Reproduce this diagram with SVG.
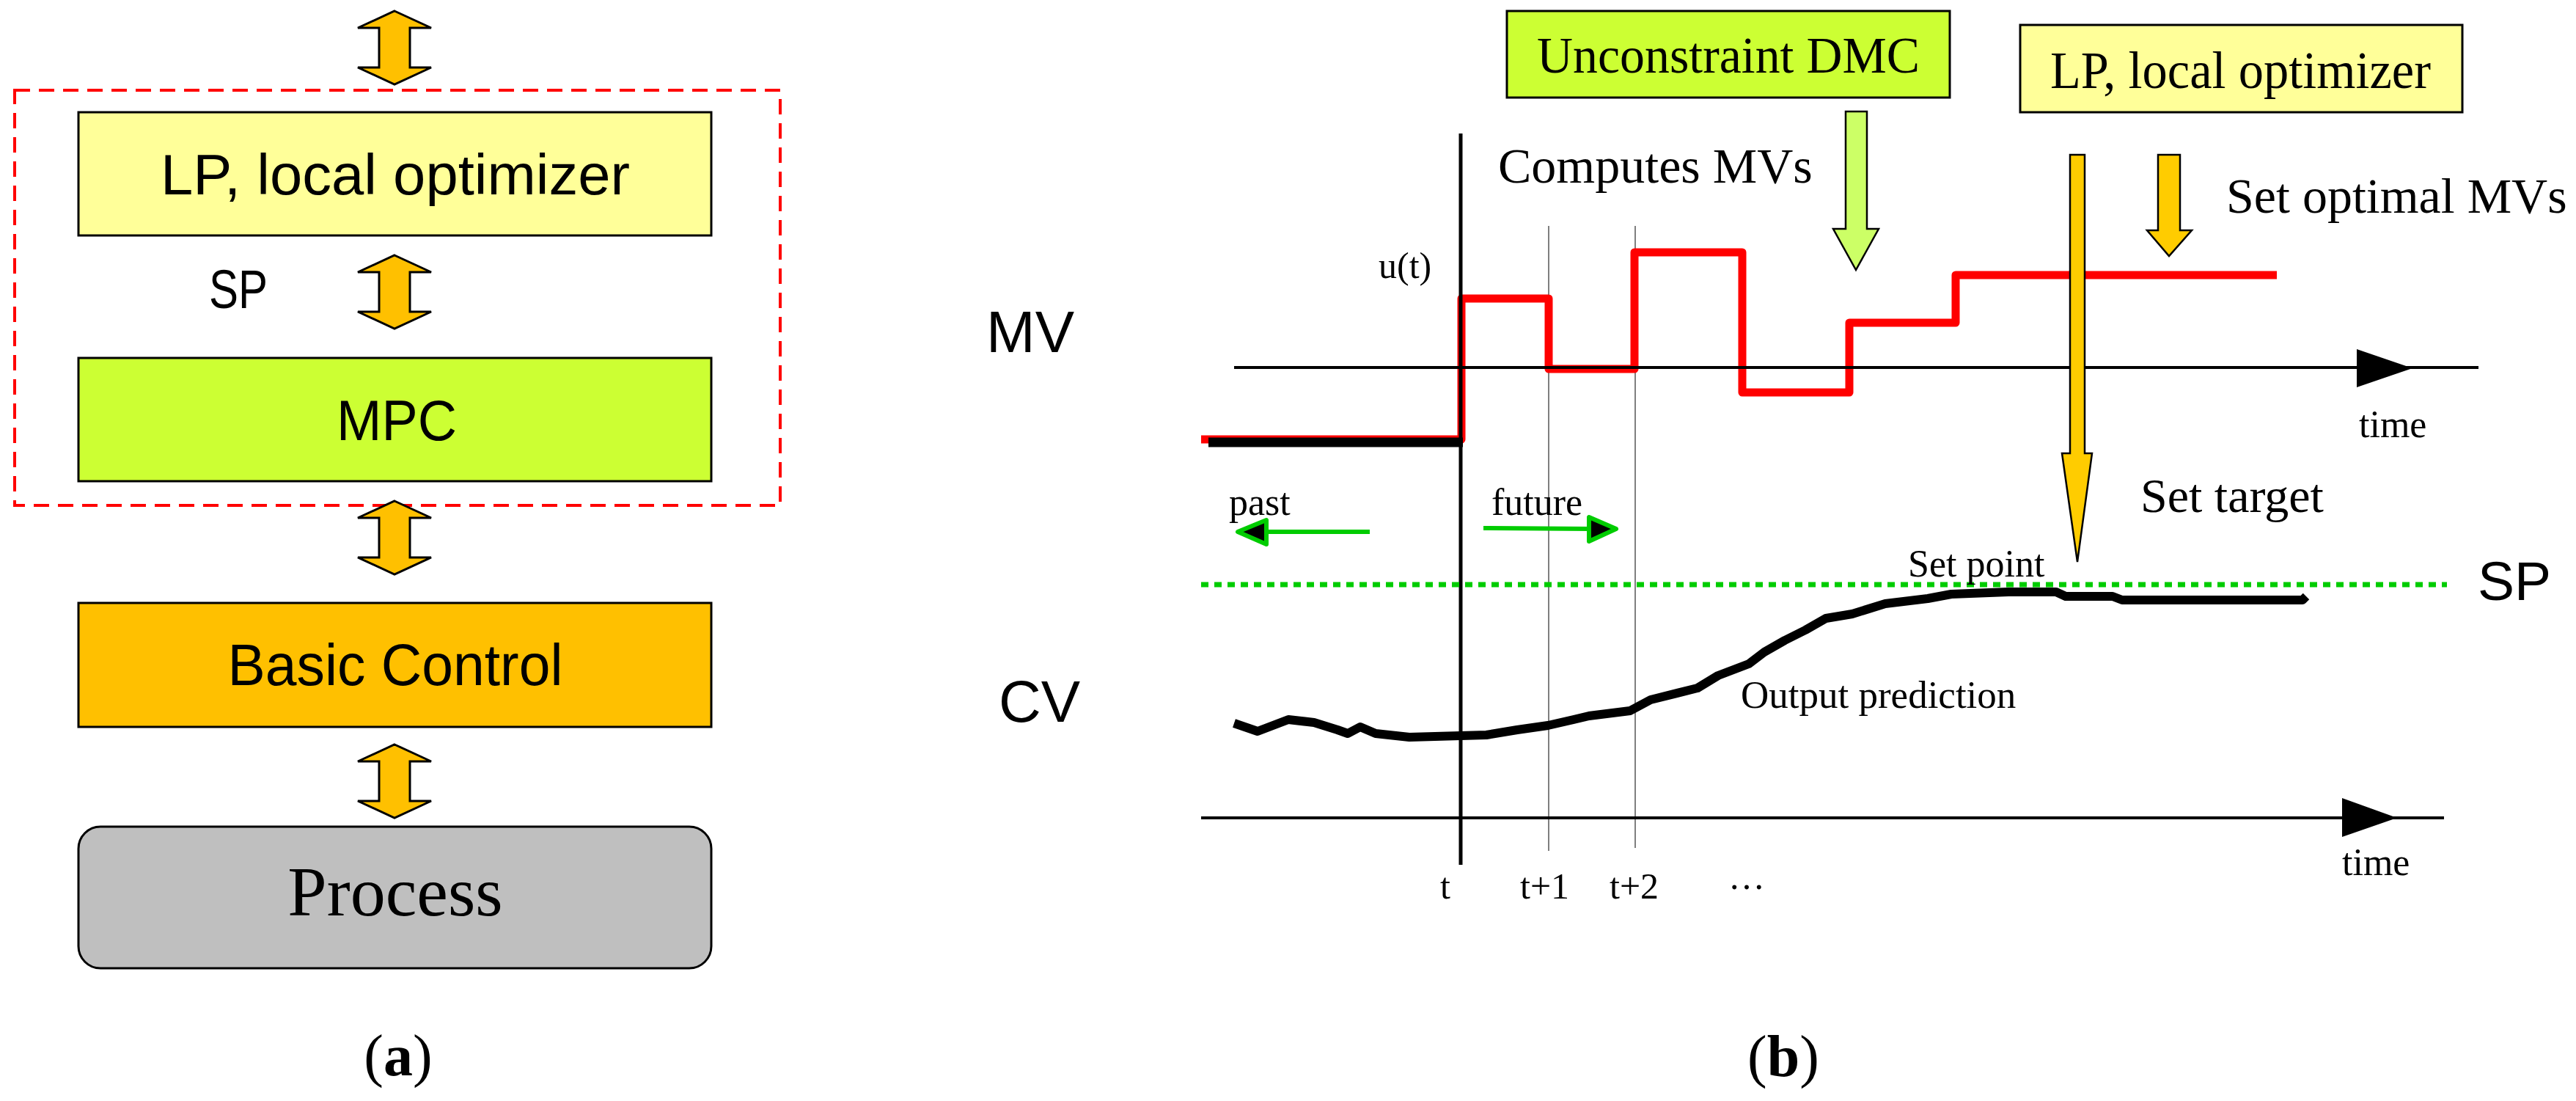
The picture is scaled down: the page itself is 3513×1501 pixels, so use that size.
<svg xmlns="http://www.w3.org/2000/svg" xmlns:xlink="http://www.w3.org/1999/xlink" width="3513" height="1501" viewBox="0 0 3513 1501">
<style>
.sans{font-family:"Liberation Sans",Arial,sans-serif;fill:#000}
.serif{font-family:"Liberation Serif","Times New Roman",serif;fill:#000}
.box{stroke:#000;stroke-width:3}
.garrow{stroke:#00CC00;stroke-width:6;fill:none}
.ghead{stroke:#00CC00;stroke-width:6;fill:#000;stroke-linejoin:round}
</style>
<defs>
<path id="dbl" d="M0,0 L50,23 L21,23 L21,77 L50,77 L0,100 L-50,77 L-21,77 L-21,23 L-50,23 Z" fill="#FFC000" stroke="#000" stroke-width="3" stroke-linejoin="miter"/>
</defs>
<rect width="3513" height="1501" fill="#fff"/>

<!-- Panel (a) -->
<g id="group-boundary">
<rect x="20" y="123" width="1044" height="566" fill="none" stroke="#FF0000" stroke-width="4" stroke-dasharray="21 12"/>
</g>
<g id="node-lp">
<rect class="box" x="107" y="153" width="863" height="168" fill="#FFFF99"/>
<text class="sans" x="539" y="265" font-size="78" text-anchor="middle" textLength="640" lengthAdjust="spacingAndGlyphs">LP, local optimizer</text>
</g>
<g id="node-mpc">
<rect class="box" x="107" y="488" width="863" height="168" fill="#CCFF33"/>
<text class="sans" x="541" y="600" font-size="77" text-anchor="middle" textLength="164" lengthAdjust="spacingAndGlyphs">MPC</text>
</g>
<g id="node-basic">
<rect class="box" x="107" y="822" width="863" height="169" fill="#FFC000"/>
<text class="sans" x="539" y="934" font-size="79" text-anchor="middle" textLength="457" lengthAdjust="spacingAndGlyphs">Basic Control</text>
</g>
<g id="node-process">
<rect class="box" x="107" y="1127" width="863" height="193" rx="30" ry="30" fill="#BFBFBF"/>
<text class="serif" x="539" y="1248" font-size="96" text-anchor="middle">Process</text>
</g>
<g id="connectors-a">
<use xlink:href="#dbl" x="538" y="15"/>
<use xlink:href="#dbl" x="538" y="348"/>
<use xlink:href="#dbl" x="538" y="683"/>
<use xlink:href="#dbl" x="538" y="1015"/>
<text class="sans" x="285" y="420" font-size="75" textLength="80" lengthAdjust="spacingAndGlyphs">SP</text>
</g>
<text class="serif" x="543" y="1466" font-size="80" text-anchor="middle">(<tspan font-weight="bold">a</tspan>)</text>

<!-- Panel (b) -->
<g id="node-dmc">
<rect class="box" x="2055" y="15" width="604" height="118" fill="#CCFF33"/>
<text class="serif" x="2096" y="99" font-size="70" textLength="522" lengthAdjust="spacingAndGlyphs">Unconstraint DMC</text>
</g>
<g id="node-lp2">
<rect class="box" x="2755" y="34" width="603" height="119" fill="#FFFF99"/>
<text class="serif" x="2796" y="120" font-size="71" textLength="519" lengthAdjust="spacingAndGlyphs">LP, local optimizer</text>
</g>

<g id="plot">
<!-- thin time grid lines -->
<line x1="2112" y1="308" x2="2112" y2="1160" stroke="#555" stroke-width="1.5"/>
<line x1="2230" y1="308" x2="2230" y2="1156" stroke="#555" stroke-width="1.5"/>
<!-- MV signal -->
<path d="M1638,599 L1993,599 L1993,407 L2112,407 L2112,503 L2229,503 L2229,344 L2376,344 L2376,535 L2522,535 L2522,440 L2667,440 L2667,375 L3105,375" fill="none" stroke="#FF0000" stroke-width="11" stroke-linejoin="round"/>
<line x1="1648" y1="603" x2="1995" y2="603" stroke="#000" stroke-width="13"/>
<!-- MV axis -->
<line x1="1683" y1="501" x2="3380" y2="501" stroke="#000" stroke-width="4"/>
<polygon points="3214,476 3290,502 3214,528" fill="#000"/>
<!-- time axis t -->
<line x1="1992" y1="182" x2="1992" y2="1179" stroke="#000" stroke-width="5"/>
<!-- set point line -->
<line x1="1638" y1="797" x2="3337" y2="797" stroke="#00CC00" stroke-width="7" stroke-dasharray="10 8"/>
<!-- CV curve -->
<path d="M1683,986 L1715,997 L1757,981 L1792,985 L1824,995 L1838,1000 L1855,991 L1876,1000 L1922,1005 L1992,1003 L2027,1002 L2069,995 L2111,989 L2146,981 L2167,976 L2223,969 L2251,954 L2315,938 L2343,921 L2385,905 L2406,889 L2434,873 L2462,859 L2490,843 L2526,837 L2571,823 L2629,816 L2661,810 L2739,807 L2804,807 L2817,813 L2881,813 L2894,818 L3140,818 L3145,813" fill="none" stroke="#000" stroke-width="12" stroke-linejoin="round"/>
<!-- CV axis -->
<line x1="1638" y1="1115" x2="3333" y2="1115" stroke="#000" stroke-width="4"/>
<polygon points="3194,1088 3269,1115 3194,1141" fill="#000"/>
</g>

<g id="connectors-b">
<!-- past / future arrows -->
<line class="garrow" x1="1868" y1="725" x2="1722" y2="725"/>
<polygon class="ghead" points="1688,725 1727,709 1727,742"/>
<line class="garrow" x1="2023" y1="720" x2="2170" y2="721"/>
<polygon class="ghead" points="2204,721 2167,705 2167,738"/>
<!-- DMC arrow -->
<path d="M2517,152 L2546,152 L2546,312 L2562,312 L2531,368 L2500,312 L2517,312 Z" fill="#CCFF66" stroke="#000" stroke-width="2.5"/>
<!-- LP arrows -->
<path d="M2823,211 L2843,211 L2843,618 L2853,618 L2833,766 L2812,618 L2823,618 Z" fill="#FFCC00" stroke="#000" stroke-width="2.5"/>
<path d="M2943,211 L2973,211 L2973,314 L2989,314 L2958,349 L2928,314 L2943,314 Z" fill="#FFCC00" stroke="#000" stroke-width="2.5"/>
</g>

<g id="labels-b">
<text class="serif" x="2043" y="249" font-size="68">Computes MVs</text>
<text class="serif" x="3036" y="290" font-size="68">Set optimal MVs</text>
<text class="serif" x="1880" y="379" font-size="50">u(t)</text>
<text class="sans" x="1345" y="480" font-size="80">MV</text>
<text class="sans" x="1362" y="984" font-size="80">CV</text>
<text class="serif" x="3217" y="596" font-size="52">time</text>
<text class="serif" x="2919" y="698" font-size="66">Set target</text>
<text class="serif" x="1676" y="702" font-size="52">past</text>
<text class="serif" x="2034" y="702" font-size="52">future</text>
<text class="serif" x="2602" y="786" font-size="52">Set point</text>
<text class="sans" x="3379" y="818" font-size="75">SP</text>
<text class="serif" x="2374" y="965" font-size="53">Output prediction</text>
<text class="serif" x="3194" y="1193" font-size="52">time</text>
<text class="serif" x="1964" y="1225" font-size="50">t</text>
<text class="serif" x="2073" y="1225" font-size="50">t+1</text>
<text class="serif" x="2195" y="1225" font-size="50">t+2</text>
<text class="serif" x="2357" y="1212" font-size="50">…</text>
<text class="serif" x="2432" y="1467" font-size="80" text-anchor="middle">(<tspan font-weight="bold">b</tspan>)</text>
</g>
</svg>
